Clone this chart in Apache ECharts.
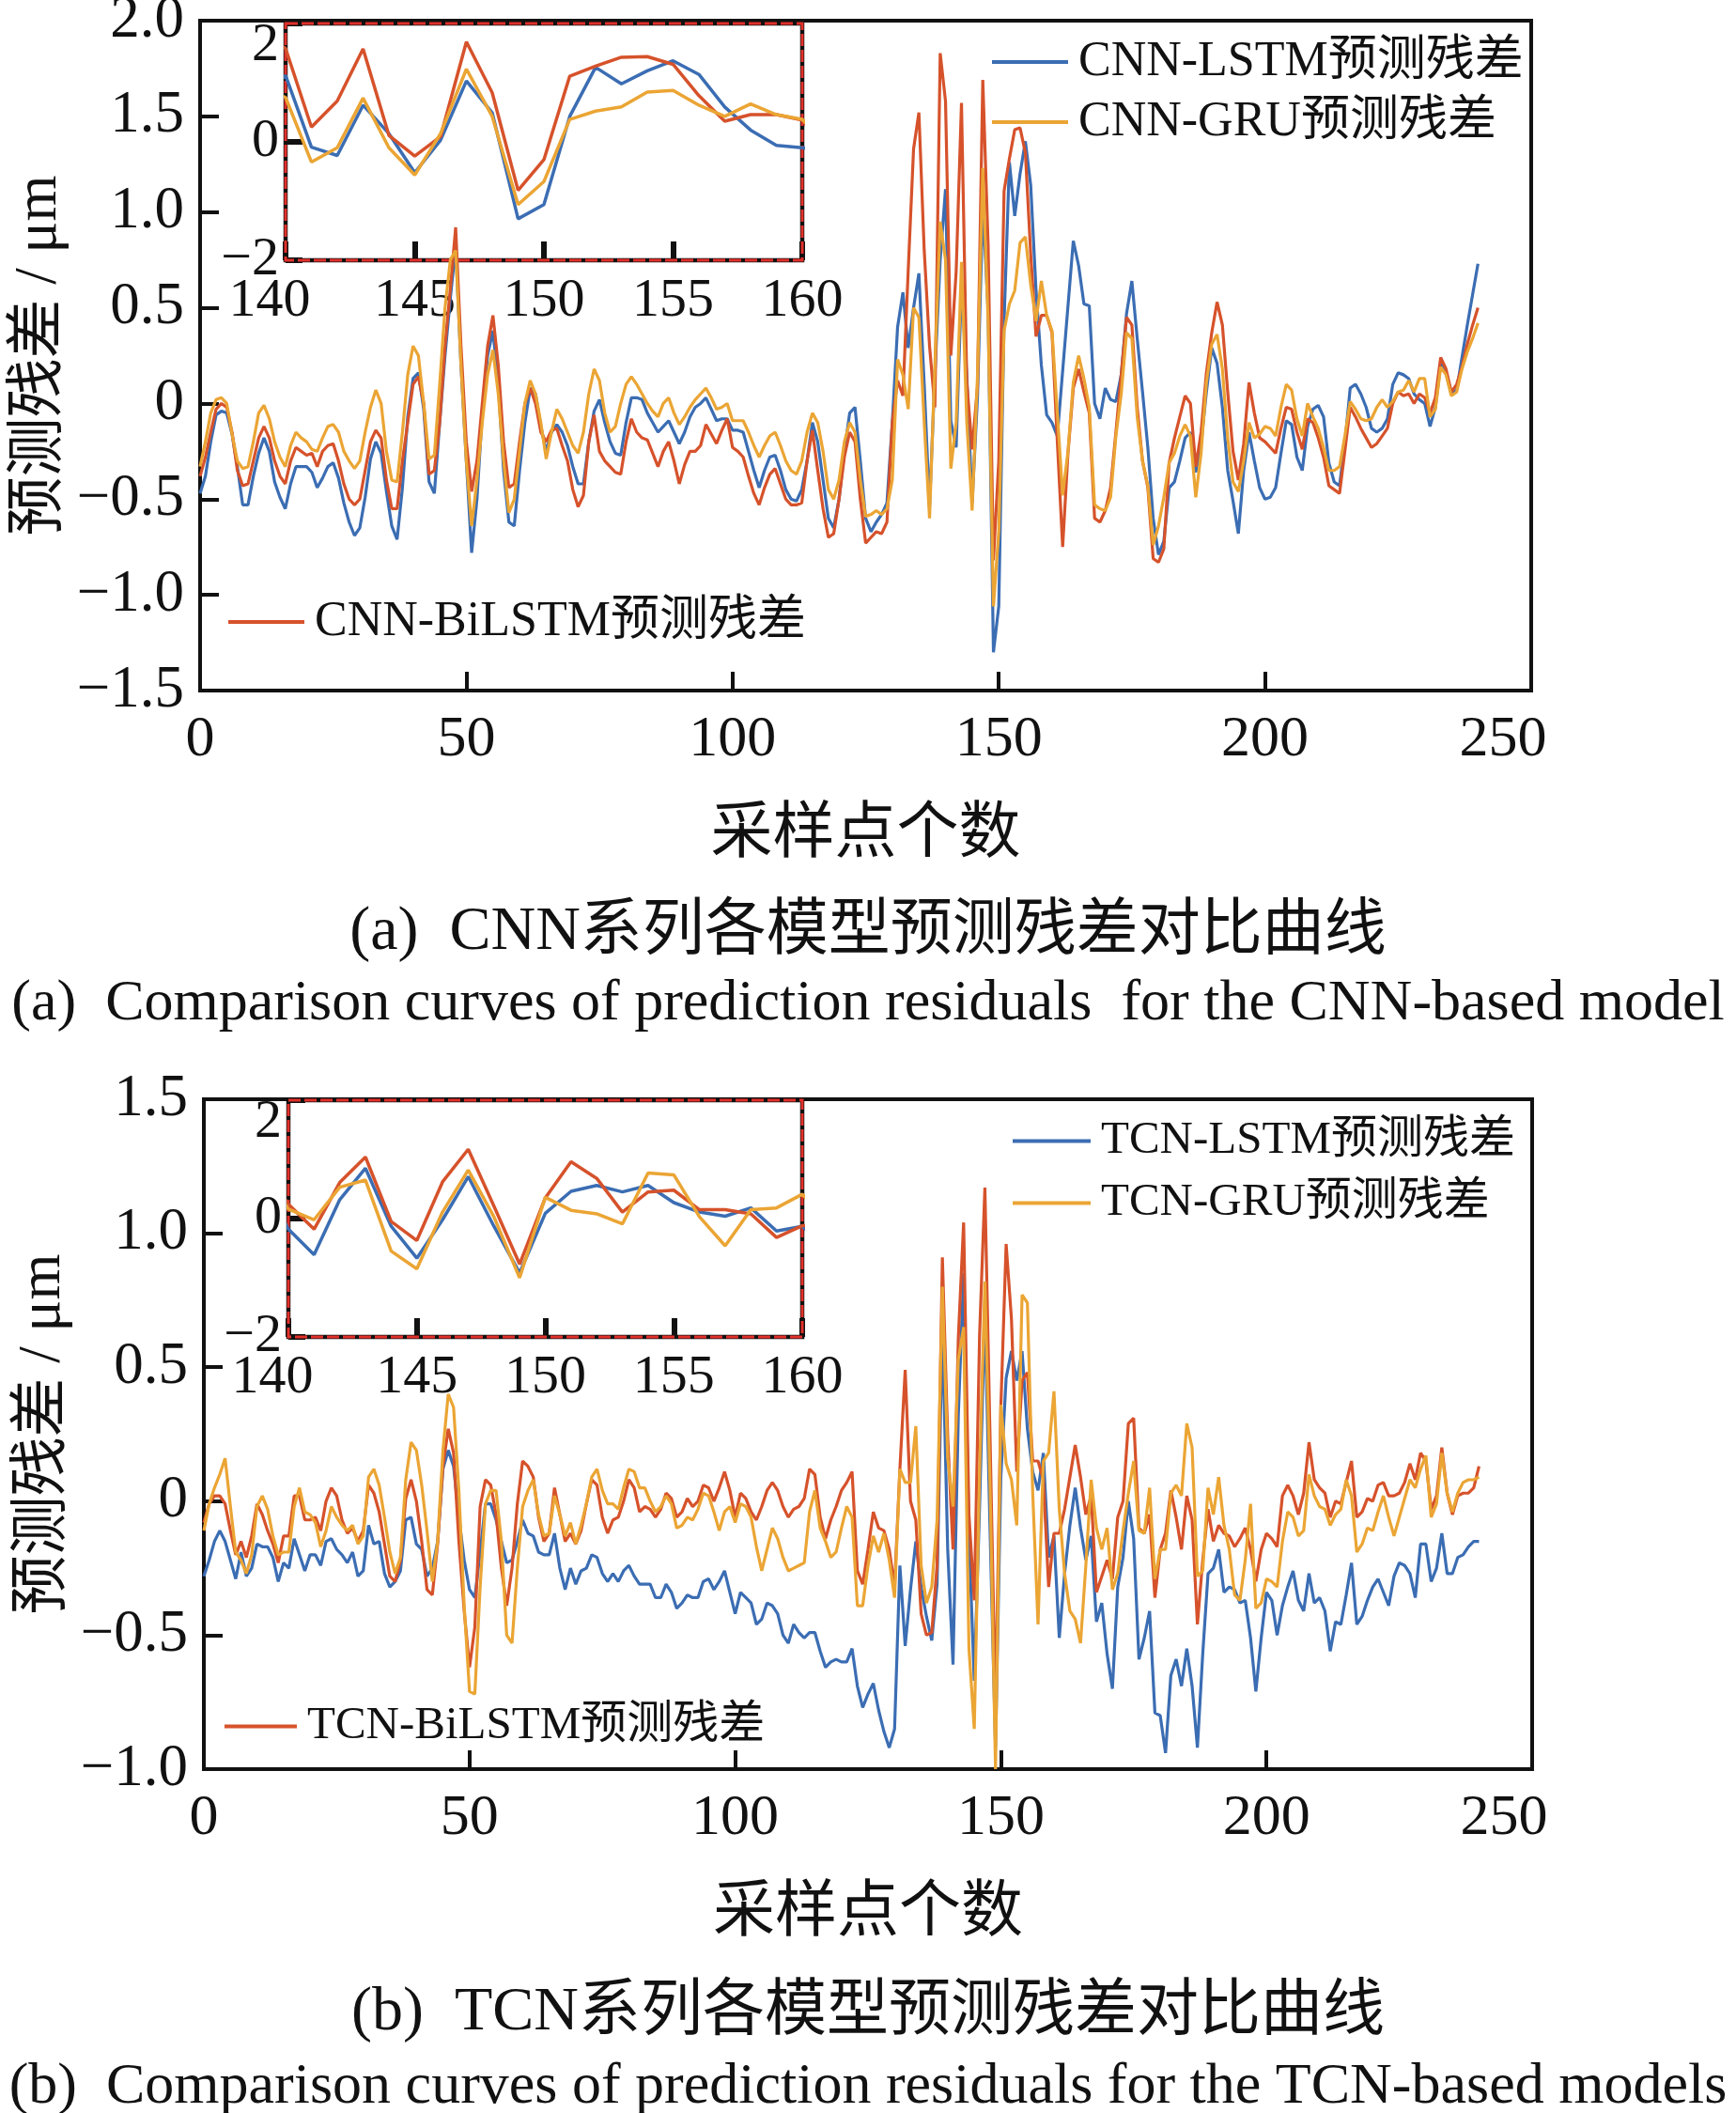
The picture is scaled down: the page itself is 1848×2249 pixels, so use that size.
<!DOCTYPE html>
<html><head><meta charset="utf-8">
<script src="https://cdn.jsdelivr.net/npm/echarts/dist/echarts.min.js"></script>
<style>html,body{margin:0;padding:0;background:#fff}#c{width:1848px;height:2249px}</style>
</head><body><div id="c"></div>
<script>
// ---------- DATA ----------
const sampleStart = 0; // first sampling point index
const cnnLSTM = [
-0.47,-0.38,-0.20,-0.06,-0.04,-0.05,-0.16,-0.33,-0.53,-0.53,
-0.38,-0.26,-0.18,-0.25,-0.41,-0.49,-0.55,-0.42,-0.33,-0.33,
-0.33,-0.36,-0.44,-0.39,-0.33,-0.31,-0.39,-0.52,-0.62,-0.69,
-0.65,-0.49,-0.29,-0.20,-0.26,-0.46,-0.64,-0.71,-0.44,-0.07,
0.13,0.16,-0.03,-0.41,-0.47,-0.10,0.25,0.55,0.82,0.20,
-0.30,-0.78,-0.50,-0.05,0.25,0.38,0.10,-0.35,-0.62,-0.64,
-0.35,-0.10,0.08,0.05,-0.12,-0.25,-0.15,-0.11,-0.15,-0.22,
-0.33,-0.42,-0.42,-0.20,-0.04,0.02,-0.10,-0.20,-0.26,-0.27,
-0.10,0.03,0.03,0.02,-0.05,-0.10,-0.15,-0.12,-0.09,-0.15,
-0.21,-0.15,-0.07,-0.02,0.00,0.03,-0.03,-0.09,-0.08,-0.08,
-0.14,-0.14,-0.15,-0.25,-0.35,-0.44,-0.35,-0.28,-0.27,-0.35,
-0.45,-0.50,-0.51,-0.45,-0.30,-0.10,-0.20,-0.40,-0.60,-0.65,
-0.50,-0.25,-0.05,-0.02,-0.30,-0.60,-0.67,-0.62,-0.58,-0.52,
-0.10,0.40,0.58,0.29,0.50,0.68,0.10,-0.54,0.15,0.75,
1.12,-0.09,-0.23,0.62,0.14,-0.52,0.03,1.03,0.49,-1.30,
-1.06,0.43,1.26,0.98,1.20,1.37,1.14,0.59,0.20,-0.06,
-0.10,-0.17,0.17,0.51,0.85,0.72,0.52,0.51,0.00,-0.08,
0.08,0.02,0.01,0.15,0.47,0.64,0.34,0.06,-0.23,-0.60,
-0.79,-0.72,-0.44,-0.41,-0.30,-0.18,-0.15,-0.36,-0.21,0.06,
0.29,0.21,-0.02,-0.35,-0.51,-0.68,-0.35,-0.15,-0.30,-0.44,
-0.50,-0.49,-0.44,-0.26,-0.09,-0.11,-0.28,-0.35,-0.12,-0.03,
-0.01,-0.07,-0.31,-0.41,-0.43,-0.21,0.08,0.10,0.05,-0.02,
-0.13,-0.15,-0.13,-0.08,0.10,0.16,0.15,0.13,0.05,0.02,
0.00,-0.12,-0.02,0.21,0.16,0.05,0.07,0.24,0.41,0.57,
0.73];
const cnnGRU = [
-0.33,-0.20,-0.05,0.02,0.03,0.00,-0.16,-0.30,-0.34,-0.33,
-0.20,-0.05,-0.01,-0.08,-0.20,-0.28,-0.33,-0.22,-0.15,-0.18,
-0.20,-0.24,-0.25,-0.18,-0.12,-0.11,-0.15,-0.25,-0.30,-0.34,
-0.30,-0.15,-0.02,0.07,0.00,-0.25,-0.40,-0.41,-0.15,0.15,
0.30,0.25,0.00,-0.29,-0.27,0.10,0.50,0.75,0.80,0.20,
-0.30,-0.64,-0.40,-0.10,0.15,0.28,0.05,-0.30,-0.57,-0.50,
-0.25,0.00,0.12,0.05,-0.10,-0.29,-0.15,-0.03,-0.08,-0.15,
-0.22,-0.26,-0.15,0.05,0.18,0.12,-0.05,-0.15,-0.12,0.00,
0.10,0.14,0.10,0.05,0.00,-0.04,-0.07,0.00,0.03,-0.05,
-0.11,-0.07,-0.02,0.02,0.05,0.08,0.03,-0.03,-0.02,0.00,
-0.09,-0.09,-0.09,-0.15,-0.22,-0.28,-0.22,-0.17,-0.15,-0.22,
-0.30,-0.35,-0.37,-0.30,-0.15,-0.05,-0.10,-0.25,-0.45,-0.50,
-0.40,-0.20,-0.10,-0.15,-0.40,-0.59,-0.58,-0.56,-0.58,-0.55,
-0.40,0.23,0.15,-0.03,0.50,0.45,-0.10,-0.60,0.20,0.95,
0.75,-0.34,-0.10,0.74,-0.10,-0.56,0.14,1.23,0.43,-1.06,
-0.67,0.38,0.52,0.59,0.84,0.87,0.62,0.43,0.64,0.46,
0.38,-0.05,-0.48,-0.25,0.11,0.25,0.13,-0.02,-0.53,-0.55,
-0.56,-0.49,-0.17,0.05,0.37,0.34,-0.07,-0.30,-0.43,-0.74,
-0.64,-0.49,-0.31,-0.26,-0.17,-0.11,-0.17,-0.49,-0.26,0.11,
0.31,0.36,0.18,-0.18,-0.41,-0.46,-0.30,-0.10,-0.18,-0.16,
-0.12,-0.13,-0.17,-0.02,0.10,0.07,-0.08,-0.17,0.00,-0.07,
-0.13,-0.23,-0.35,-0.35,-0.33,-0.17,0.01,-0.03,-0.08,-0.09,
-0.08,-0.02,0.02,-0.02,0.01,0.06,0.07,0.12,0.06,0.13,
0.13,-0.07,-0.03,0.19,0.15,0.04,0.06,0.18,0.27,0.34,
0.42];
const cnnBiLSTM = [
-0.38,-0.28,-0.15,-0.03,0.00,-0.02,-0.15,-0.35,-0.43,-0.42,
-0.30,-0.18,-0.12,-0.18,-0.30,-0.38,-0.42,-0.30,-0.23,-0.25,
-0.27,-0.26,-0.33,-0.25,-0.22,-0.21,-0.30,-0.42,-0.50,-0.53,
-0.50,-0.35,-0.20,-0.14,-0.18,-0.40,-0.55,-0.55,-0.30,-0.10,
0.10,0.14,0.00,-0.37,-0.35,-0.10,0.30,0.60,0.92,0.30,
-0.20,-0.46,-0.30,0.00,0.30,0.46,0.20,-0.20,-0.44,-0.42,
-0.20,0.00,0.08,0.00,-0.15,-0.20,-0.14,-0.13,-0.22,-0.30,
-0.45,-0.54,-0.48,-0.20,-0.06,-0.25,-0.30,-0.33,-0.36,-0.37,
-0.20,-0.08,-0.15,-0.18,-0.19,-0.26,-0.33,-0.25,-0.20,-0.30,
-0.42,-0.32,-0.25,-0.25,-0.22,-0.11,-0.16,-0.21,-0.14,-0.08,
-0.23,-0.25,-0.28,-0.38,-0.47,-0.53,-0.44,-0.37,-0.34,-0.42,
-0.50,-0.53,-0.53,-0.52,-0.30,-0.14,-0.35,-0.55,-0.70,-0.68,
-0.50,-0.28,-0.15,-0.20,-0.50,-0.73,-0.70,-0.67,-0.68,-0.62,
-0.10,0.12,0.04,0.70,1.33,1.52,0.80,0.30,-0.02,1.83,
1.58,0.25,0.69,1.57,0.11,-0.24,0.09,1.69,0.83,-0.82,
-0.30,1.11,1.28,1.43,1.44,1.31,0.78,0.35,0.46,0.46,
0.37,-0.20,-0.75,-0.26,0.08,0.18,0.06,-0.05,-0.60,-0.62,
-0.56,-0.44,-0.15,0.15,0.45,0.41,-0.02,-0.30,-0.44,-0.81,
-0.83,-0.76,-0.31,-0.18,-0.07,0.04,0.00,-0.33,-0.15,0.16,
0.37,0.53,0.41,0.06,-0.25,-0.40,-0.21,0.11,-0.05,-0.18,
-0.20,-0.23,-0.26,-0.13,-0.02,-0.03,-0.15,-0.24,-0.08,-0.10,
-0.18,-0.28,-0.43,-0.45,-0.47,-0.25,-0.02,-0.07,-0.13,-0.18,
-0.23,-0.21,-0.17,-0.13,0.00,0.06,0.04,0.05,0.00,0.05,
0.03,-0.05,0.03,0.24,0.18,0.06,0.10,0.19,0.31,0.41,
0.50];
const tcnLSTM = [
-0.28,-0.22,-0.15,-0.11,-0.15,-0.22,-0.29,-0.19,-0.28,-0.25,
-0.16,-0.17,-0.17,-0.21,-0.30,-0.23,-0.25,-0.14,-0.20,-0.26,
-0.20,-0.20,-0.24,-0.15,-0.14,-0.18,-0.20,-0.23,-0.19,-0.28,
-0.26,-0.09,-0.16,-0.15,-0.27,-0.32,-0.30,-0.26,-0.07,-0.06,
-0.16,-0.18,-0.28,-0.25,-0.15,0.12,0.19,0.13,-0.06,-0.22,
-0.33,-0.36,-0.19,-0.01,-0.01,-0.07,-0.15,-0.23,-0.22,-0.15,
-0.07,-0.12,-0.13,-0.19,-0.20,-0.20,-0.12,-0.25,-0.33,-0.25,
-0.31,-0.26,-0.25,-0.20,-0.21,-0.27,-0.30,-0.27,-0.30,-0.26,
-0.24,-0.28,-0.31,-0.31,-0.31,-0.36,-0.36,-0.31,-0.34,-0.40,
-0.38,-0.35,-0.36,-0.36,-0.30,-0.29,-0.33,-0.30,-0.26,-0.34,
-0.42,-0.34,-0.36,-0.38,-0.46,-0.44,-0.38,-0.39,-0.42,-0.50,
-0.53,-0.46,-0.49,-0.51,-0.49,-0.49,-0.56,-0.62,-0.60,-0.59,
-0.60,-0.60,-0.55,-0.69,-0.77,-0.72,-0.68,-0.78,-0.86,-0.92,
-0.85,-0.24,-0.54,-0.33,-0.15,-0.32,-0.43,-0.52,-0.31,0.66,
-0.18,-0.61,0.32,0.85,-0.13,-0.67,-0.02,0.71,-0.13,-0.92,
0.09,0.46,0.56,0.45,0.56,0.27,0.11,0.04,0.18,-0.21,
-0.13,-0.51,-0.27,-0.09,0.05,-0.10,-0.22,-0.13,-0.45,-0.38,
-0.57,-0.70,-0.32,-0.21,0.00,-0.14,-0.59,-0.51,-0.41,-0.79,
-0.80,-0.94,-0.65,-0.59,-0.69,-0.55,-0.69,-0.92,-0.57,-0.27,
-0.25,-0.18,-0.34,-0.32,-0.33,-0.38,-0.37,-0.51,-0.71,-0.51,
-0.34,-0.37,-0.50,-0.39,-0.32,-0.26,-0.37,-0.41,-0.27,-0.38,
-0.36,-0.41,-0.56,-0.45,-0.46,-0.35,-0.23,-0.46,-0.43,-0.37,
-0.32,-0.29,-0.34,-0.39,-0.28,-0.23,-0.24,-0.27,-0.36,-0.16,
-0.16,-0.30,-0.25,-0.12,-0.27,-0.27,-0.21,-0.20,-0.17,-0.15,
-0.15];
const tcnGRU = [
-0.11,-0.01,0.05,0.10,0.16,-0.02,-0.19,-0.22,-0.27,-0.20,
-0.02,0.02,-0.03,-0.13,-0.20,-0.19,-0.19,-0.02,0.05,-0.04,
-0.05,-0.08,-0.17,-0.11,-0.02,-0.06,-0.09,-0.11,-0.09,-0.16,
-0.13,0.09,0.12,0.06,-0.06,-0.19,-0.27,-0.21,0.08,0.22,
0.19,0.06,-0.11,-0.30,-0.15,0.19,0.40,0.35,0.04,-0.39,
-0.71,-0.72,-0.32,-0.01,0.04,0.04,-0.15,-0.50,-0.53,-0.25,
-0.02,0.04,0.08,-0.05,-0.13,-0.12,0.02,-0.05,-0.13,-0.08,
-0.16,-0.09,-0.01,0.09,0.12,0.04,-0.01,-0.01,-0.03,0.05,
0.12,0.11,0.05,0.05,0.00,-0.04,-0.02,0.02,-0.01,-0.10,
-0.09,-0.06,-0.07,-0.03,0.03,0.02,-0.04,-0.11,-0.04,-0.02,
-0.08,-0.01,-0.02,-0.06,-0.17,-0.26,-0.18,-0.10,-0.14,-0.21,
-0.26,-0.25,-0.24,-0.23,-0.04,0.04,-0.10,-0.15,-0.21,-0.19,
-0.10,-0.02,-0.06,-0.39,-0.39,-0.24,-0.13,-0.19,-0.12,-0.22,
-0.36,0.12,0.07,0.07,0.28,-0.24,-0.38,-0.32,-0.07,0.80,
0.16,-0.02,0.53,0.65,-0.55,-0.85,0.11,0.82,0.03,-1.00,
0.36,0.14,0.08,-0.09,0.77,0.74,0.03,-0.46,0.15,0.18,
0.41,-0.03,-0.27,-0.41,-0.44,-0.53,-0.24,0.08,-0.10,-0.18,
-0.10,-0.33,-0.27,-0.11,0.03,0.15,-0.11,-0.12,0.05,-0.29,
-0.18,-0.18,0.03,0.06,0.02,0.29,0.20,-0.28,-0.26,0.05,
-0.05,0.09,-0.09,-0.18,-0.35,-0.37,-0.22,-0.01,-0.40,-0.38,
-0.29,-0.30,-0.32,-0.15,-0.04,-0.06,-0.13,-0.11,0.10,0.02,
-0.02,-0.03,-0.09,-0.05,-0.03,0.08,0.02,-0.19,-0.16,-0.10,
-0.11,-0.04,0.02,-0.06,-0.13,-0.06,0.01,0.08,0.05,0.12,
0.17,-0.06,-0.01,0.18,0.03,-0.04,0.03,0.07,0.08,0.08,
0.09];
const tcnBiLSTM = [
-0.08,-0.01,0.02,0.02,-0.01,-0.11,-0.20,-0.15,-0.21,-0.13,
-0.01,-0.05,-0.11,-0.16,-0.23,-0.13,-0.13,0.02,0.02,-0.07,
-0.07,-0.06,-0.11,0.00,0.05,0.02,-0.07,-0.12,-0.10,-0.15,
-0.11,0.06,0.03,-0.04,-0.16,-0.28,-0.30,-0.22,0.01,0.08,
0.00,-0.15,-0.33,-0.35,-0.16,0.13,0.27,0.18,-0.15,-0.41,
-0.62,-0.47,-0.02,0.08,0.06,-0.05,-0.25,-0.39,-0.25,-0.01,
0.15,0.13,0.09,-0.06,-0.15,-0.12,0.05,-0.05,-0.15,-0.12,
-0.16,-0.11,-0.01,0.08,0.06,-0.06,-0.12,-0.07,-0.06,0.00,
0.08,0.05,-0.04,-0.02,-0.03,-0.06,-0.03,0.03,0.01,-0.06,
-0.04,0.01,-0.02,0.00,0.06,0.05,0.00,0.05,0.11,0.04,
-0.06,0.03,0.01,-0.04,-0.07,-0.02,0.04,0.07,0.04,-0.02,
-0.06,-0.03,-0.02,0.01,0.12,0.10,-0.06,-0.14,-0.07,-0.02,
0.04,0.07,0.11,-0.26,-0.31,-0.18,-0.04,-0.10,-0.11,-0.18,
-0.32,0.12,0.49,0.00,-0.07,-0.42,-0.50,-0.49,-0.24,0.91,
0.24,-0.18,0.61,1.04,-0.05,-0.37,0.62,1.17,0.21,-0.77,
0.35,0.96,0.68,0.11,0.45,0.48,0.15,0.15,0.08,-0.32,
-0.12,-0.12,-0.03,0.09,0.21,0.09,-0.05,0.02,-0.34,-0.28,
-0.22,-0.29,-0.06,0.00,0.29,0.31,-0.10,-0.12,-0.05,-0.36,
-0.18,-0.12,0.04,-0.06,-0.18,0.02,-0.07,-0.46,-0.22,-0.03,
-0.15,-0.09,-0.12,-0.13,-0.17,-0.14,-0.10,-0.18,-0.30,-0.18,
-0.12,-0.14,-0.17,0.02,0.06,0.02,-0.05,0.03,0.22,0.08,
0.05,0.03,-0.06,0.00,-0.01,0.07,0.15,-0.06,-0.04,0.01,
0.00,0.06,0.07,0.02,0.02,0.03,0.07,0.14,0.08,0.18,
0.15,-0.03,0.02,0.20,0.03,-0.05,0.02,0.03,0.03,0.05,
0.13];

const namesCNN = ['CNN-LSTM预测残差', 'CNN-GRU预测残差', 'CNN-BiLSTM预测残差'];
const namesTCN = ['TCN-LSTM预测残差', 'TCN-GRU预测残差', 'TCN-BiLSTM预测残差'];
const yAxisTitle = '预测残差 / μm';
const xAxisTitle = '采样点个数';
const captionCnZhA = '(a)  CNN系列各模型预测残差对比曲线';
const captionEnA = '(a)  Comparison curves of prediction residuals  for the CNN-based model';
const captionCnZhB = '(b)  TCN系列各模型预测残差对比曲线';
const captionEnB = '(b)  Comparison curves of prediction residuals for the TCN-based models';

// ---------- STYLE ----------
const FONT = "'Liberation Serif','Times New Roman','Noto Sans CJK SC',serif";
const INK = '#111';
const C_BLUE = '#3b6db3', C_RED = '#d6522b', C_ORANGE = '#eba534';

function fmtMain(v) {
  if (Math.abs(v) < 1e-9) return '0';
  return (v < 0 ? '\u2212' : '') + Math.abs(v).toFixed(1);
}
function toXY(arr) { return arr.map((v, i) => [sampleStart + i, v]); }

function mainX(gi) {
  return {
    gridIndex: gi, type: 'value', min: 0, max: 250, interval: 50,
    axisLine: { show: true, onZero: false, lineStyle: { color: INK, width: 4 } },
    axisTick: { show: true, inside: true, length: 20, lineStyle: { color: INK, width: 4 } },
    splitLine: { show: false },
    axisLabel: {
      show: true, margin: 22, hideOverlap: false, color: INK, fontSize: 62, fontFamily: FONT,
      formatter: v => v === 250 ? '{e|250}' : String(v),
      rich: { e: { fontSize: 62, fontFamily: FONT, color: INK, padding: [0, 60, 0, 0] } }
    },
    name: xAxisTitle, nameLocation: 'middle', nameGap: 122, nameMoveOverlap: false,
    nameTextStyle: { fontSize: 66, color: INK, fontFamily: FONT }
  };
}
function mainY(gi, min, max) {
  return {
    gridIndex: gi, type: 'value', min: min, max: max, interval: 0.5,
    axisLine: { show: true, onZero: false, lineStyle: { color: INK, width: 4 } },
    axisTick: { show: true, inside: true, length: 20, lineStyle: { color: INK, width: 4 } },
    splitLine: { show: false },
    axisLabel: { show: true, margin: 17, hideOverlap: false, color: INK, fontSize: 63, fontFamily: FONT, formatter: fmtMain },
    name: yAxisTitle, nameLocation: 'middle', nameGap: 139, nameMoveOverlap: false,
    nameTextStyle: { fontSize: 63, color: INK, fontFamily: FONT }
  };
}
function insetX(gi) {
  return {
    gridIndex: gi, type: 'value', min: 140, max: 160, interval: 5,
    axisLine: { show: false, onZero: false },
    axisTick: { show: true, inside: true, length: 20, lineStyle: { color: INK, width: 6 } },
    splitLine: { show: false },
    axisLabel: {
      show: true, margin: 15, hideOverlap: false, color: INK, fontSize: 58, fontFamily: FONT,
      formatter: v => v === 140 ? '{s|140}' : String(v),
      rich: { s: { fontSize: 58, fontFamily: FONT, color: INK, padding: [0, 34, 0, 0] } }
    }
  };
}
function insetY(gi) {
  return {
    gridIndex: gi, type: 'value', min: -2, max: 2, interval: 2,
    axisLine: { show: false, onZero: false },
    axisTick: { show: true, inside: true, length: 18, lineStyle: { color: INK, width: 6 } },
    splitLine: { show: false },
    axisLabel: {
      show: true, margin: 7, hideOverlap: false, color: INK, fontSize: 58, fontFamily: FONT,
      formatter: v => v === 2 ? '{t|2}' : (v < 0 ? '\u2212' + Math.abs(v) : String(v)),
      rich: { t: { fontSize: 58, fontFamily: FONT, color: INK, padding: [48, 0, 0, 0] } }
    }
  };
}
function hiddenAxis(gi) {
  return { gridIndex: gi, type: 'value', min: 0, max: 1, show: false };
}
function lineSeries(name, data, xi, color, w) {
  return {
    type: 'line', name: name, data: toXY(data), xAxisIndex: xi, yAxisIndex: xi,
    showSymbol: false, symbol: 'none', clip: true, animation: false,
    lineStyle: { color: color, width: w }, itemStyle: { color: color }
  };
}
function legendOf(names, left, top, fs, iw, gap) {
  return {
    data: names, orient: 'vertical', left: left, top: top, padding: 0,
    itemWidth: iw, itemHeight: 4, itemGap: gap, icon: 'rect', selectedMode: false,
    textStyle: { fontSize: fs, lineHeight: fs, color: INK, fontFamily: FONT, padding: [0, 0, 0, 6] }
  };
}
const gridBase = { show: true, borderColor: INK, borderWidth: 4, backgroundColor: 'transparent', containLabel: false, outerBoundsMode: 'none' };
const insetBase = { show: true, borderColor: INK, borderWidth: 4.5, backgroundColor: 'transparent', containLabel: false, outerBoundsMode: 'none' };
const dashBase = { show: true, z: 1, borderColor: '#e2302a', borderWidth: 3, borderType: [13, 4], backgroundColor: 'transparent', containLabel: false, outerBoundsMode: 'none' };

const option = {
  backgroundColor: '#ffffff',
  animation: false,
  grid: [
    Object.assign({ left: 213, top: 22, width: 1417, height: 713 }, gridBase),
    Object.assign({ left: 304, top: 25, width: 550, height: 252 }, insetBase),
    Object.assign({ left: 304, top: 25, width: 550, height: 252 }, dashBase),
    Object.assign({ left: 217, top: 1170, width: 1414, height: 713 }, gridBase),
    Object.assign({ left: 307, top: 1171, width: 547, height: 252 }, insetBase),
    Object.assign({ left: 307, top: 1171, width: 547, height: 252 }, dashBase)
  ],
  xAxis: [mainX(0), insetX(1), hiddenAxis(2), mainX(3), insetX(4), hiddenAxis(5)],
  yAxis: [mainY(0, -1.5, 2.0), insetY(1), hiddenAxis(2), mainY(3, -1.0, 1.5), insetY(4), hiddenAxis(5)],
  legend: [
    legendOf([namesCNN[0], namesCNN[1]], 1056, 40, 52, 81, 12),
    legendOf([namesCNN[2]], 243, 636, 52, 81, 9),
    legendOf([namesTCN[0], namesTCN[1]], 1078, 1190, 49, 83, 17),
    legendOf([namesTCN[2]], 239, 1813, 49, 77, 16)
  ],
  title: [
    { text: captionCnZhA, left: 'center', top: 960, padding: 0, textStyle: { fontSize: 66, fontWeight: 'normal', color: INK, fontFamily: FONT } },
    { text: captionEnA, left: 'center', top: 1038, padding: 0, textStyle: { fontSize: 62, fontWeight: 'normal', color: INK, fontFamily: FONT } },
    { text: captionCnZhB, left: 'center', top: 2110, padding: 0, textStyle: { fontSize: 66, fontWeight: 'normal', color: INK, fontFamily: FONT } },
    { text: captionEnB, left: 'center', top: 2191, padding: 0, textStyle: { fontSize: 62, fontWeight: 'normal', color: INK, fontFamily: FONT } }
  ],
  series: [
    lineSeries(namesCNN[0], cnnLSTM, 0, C_BLUE, 3.2),
    lineSeries(namesCNN[2], cnnBiLSTM, 0, C_RED, 3.2),
    lineSeries(namesCNN[1], cnnGRU, 0, C_ORANGE, 3.2),
    lineSeries(namesCNN[0], cnnLSTM, 1, C_BLUE, 3.5),
    lineSeries(namesCNN[2], cnnBiLSTM, 1, C_RED, 3.5),
    lineSeries(namesCNN[1], cnnGRU, 1, C_ORANGE, 3.5),
    lineSeries(namesTCN[0], tcnLSTM, 3, C_BLUE, 3.2),
    lineSeries(namesTCN[2], tcnBiLSTM, 3, C_RED, 3.2),
    lineSeries(namesTCN[1], tcnGRU, 3, C_ORANGE, 3.2),
    lineSeries(namesTCN[0], tcnLSTM, 4, C_BLUE, 3.5),
    lineSeries(namesTCN[2], tcnBiLSTM, 4, C_RED, 3.5),
    lineSeries(namesTCN[1], tcnGRU, 4, C_ORANGE, 3.5)
  ]
};
const chart = echarts.init(document.getElementById('c'), null, { renderer: 'canvas', width: 1848, height: 2249 });
chart.setOption(option);
</script></body></html>
